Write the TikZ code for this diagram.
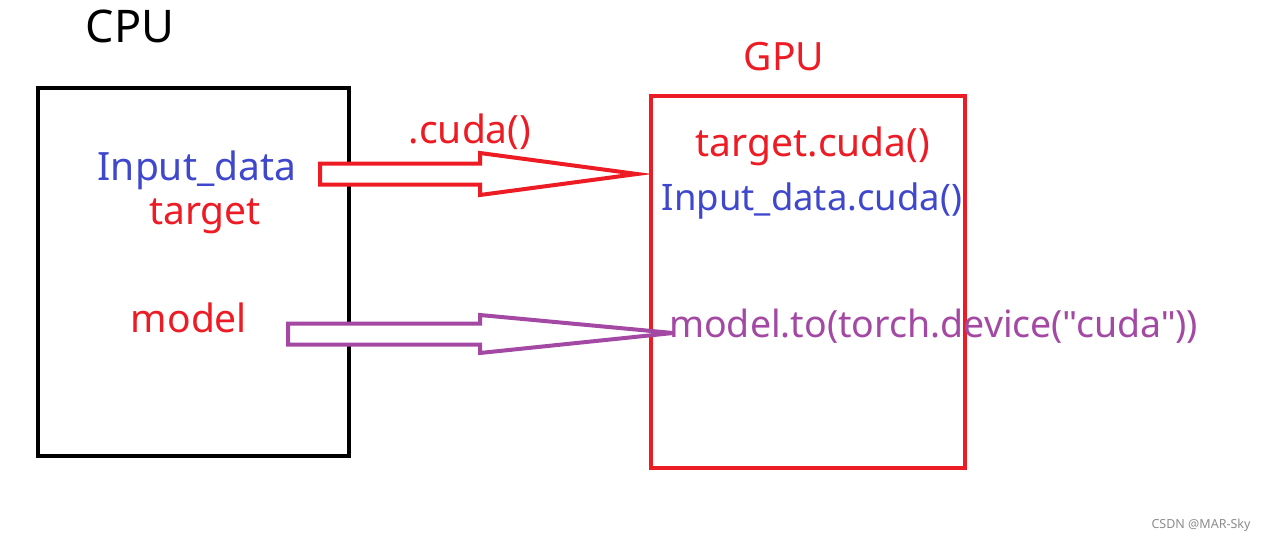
\documentclass[tikz,border=0pt]{standalone}
\usepackage{fontspec}
\setmainfont{Noto Sans}[Ligatures=ResetAll]
\newfontfamily\qtfont{Liberation Sans}[Ligatures=ResetAll]
\usetikzlibrary{positioning,calc}

\definecolor{pred}{RGB}{237,28,36}
\definecolor{pblue}{RGB}{63,72,204}
\definecolor{ppurple}{RGB}{163,73,164}

\newcommand{\sq}{{\qtfont\symbol{"22}}}

\tikzset{
  lbl/.style={anchor=base,inner sep=0pt,font=\fontsize{39}{43}\selectfont},
  devbox/.style={line width=4pt},
  fatarrow/.style={line width=4pt,fill=white,line join=miter}
}

\begin{document}
\begin{tikzpicture}[x=1pt,y=-1pt]

\useasboundingbox (0,0) rectangle (1266,541);

% the two devices
\draw[devbox,black] (38,88) rectangle (349,456);
\draw[devbox,pred] (651,96) rectangle (965,468);

\node [lbl,black,font=\fontsize{45}{49}\selectfont] (cpu) at (130,42) {CPU};
\node [lbl,pred] (gpu) at (784,70) {GPU};

% cpu side
\node [lbl,pblue] (indata) at (197,180) {Input\_data};
\node [lbl,pred] (tgt) at (205,224) {target};
\node [lbl,pred] (mdl) at (189,332) {model};

% gpu side
\node [lbl,pred] (tgtcuda) at (813,156) {target.cuda()};
\node [lbl,pblue,font=\fontsize{36.5}{40}\selectfont] (incuda) at (812,210) {Input\_data.cuda()};
\node [lbl,ppurple,font=\fontsize{37.5}{41}\selectfont,anchor=base west] (mdlto) at (669,337) {model.to(torch.device(\sq cuda\sq))};

\node [lbl,pred] (cudacall) at (470,143) {.cuda()};

\node [lbl,black!45,font=\fontsize{12.5}{14}\selectfont] (mark) at (1201,528) {CSDN @MAR-Sky};

% block arrows
\coordinate (a1) at (320,174);
\coordinate (b1) at (637,174);
\draw[fatarrow,draw=pred] ($(a1)+(0,-10.5)$) -- ($(a1)+(160,-10.5)$) -- ($(a1)+(160,-21)$) -- (b1)
  -- ($(a1)+(160,21)$) -- ($(a1)+(160,10.5)$) -- ($(a1)+(0,10.5)$) -- cycle;

\coordinate (a2) at (288,334);
\coordinate (b2) at (673,333);
\draw[fatarrow,draw=ppurple] ($(a2)+(0,-10.5)$) -- ($(a2)+(192,-10.5)$) -- ($(a2)+(192,-19)$) -- (b2)
  -- ($(a2)+(192,19)$) -- ($(a2)+(192,10.5)$) -- ($(a2)+(0,10.5)$) -- cycle;

\end{tikzpicture}
\end{document}
